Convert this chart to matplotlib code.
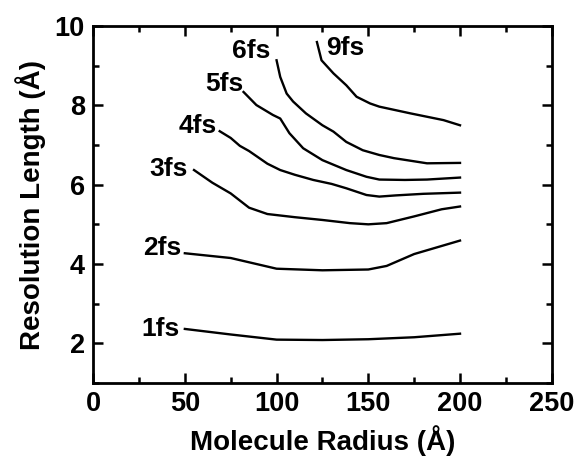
import matplotlib.pyplot as plt
from matplotlib.ticker import MultipleLocator

plt.rcParams['font.family'] = ['Liberation Sans', 'DejaVu Sans']
plt.rcParams['font.weight'] = 'bold'

# molecule radius (x) and resolution length (y) for each pulse duration
x_1fs = [50, 75, 100, 125, 150, 175, 200]
y_1fs = [2.36, 2.22, 2.09, 2.08, 2.10, 2.15, 2.24]

x_2fs = [50, 75, 100, 125, 150, 160, 175, 200]
y_2fs = [4.27, 4.15, 3.88, 3.84, 3.86, 3.95, 4.25, 4.59]

x_3fs = [55, 65, 75, 85, 95, 110, 125, 140, 150, 160, 175, 190, 200]
y_3fs = [6.37, 6.05, 5.78, 5.42, 5.26, 5.18, 5.11, 5.03, 5.00, 5.03, 5.20, 5.38, 5.45]

x_4fs = [69, 75, 80, 85, 95, 102, 110, 120, 130, 138, 149, 156, 165, 180, 200]
y_4fs = [7.35, 7.18, 6.98, 6.85, 6.53, 6.37, 6.25, 6.12, 6.02, 5.91, 5.74, 5.70, 5.73, 5.77, 5.80]

x_5fs = [82, 89, 98, 102, 107, 114.5, 125, 138, 149, 156, 170, 182, 200]
y_5fs = [8.34, 8.01, 7.76, 7.67, 7.30, 6.92, 6.62, 6.37, 6.20, 6.13, 6.12, 6.13, 6.18]

x_6fs = [100, 102, 105.5, 109, 116, 125, 131, 138, 147, 156, 164, 182, 200]
y_6fs = [9.14, 8.72, 8.30, 8.10, 7.80, 7.50, 7.34, 7.08, 6.87, 6.75, 6.67, 6.54, 6.55]

x_9fs = [122, 124.5, 131, 138, 143.6, 151, 156, 173, 191, 200]
y_9fs = [9.60, 9.14, 8.81, 8.51, 8.22, 8.05, 7.97, 7.80, 7.63, 7.50]

labels = ['1fs', '2fs', '3fs', '4fs', '5fs', '6fs', '9fs']
label_x = [47, 48, 51.6, 67.4, 82.2, 96.4, 126.9]
label_y = [2.37, 4.40, 6.39, 7.48, 8.54, 9.38, 9.46]

fig = plt.figure(figsize=(5.82, 4.68), dpi=100)
ax = fig.add_axes([0.160, 0.182, 0.788, 0.762])

for xs, ys in [(x_1fs, y_1fs), (x_2fs, y_2fs), (x_3fs, y_3fs), (x_4fs, y_4fs),
               (x_5fs, y_5fs), (x_6fs, y_6fs), (x_9fs, y_9fs)]:
    ax.plot(xs, ys, color='black', linewidth=1.7, solid_joinstyle='round')

for lab, lx, ly in zip(labels, label_x, label_y):
    ha = 'left' if lab == '9fs' else 'right'
    ax.text(lx, ly, lab, ha=ha, va='center', fontsize=19, fontweight='bold')

ax.set_xlim(0, 250)
ax.set_ylim(1, 10)
ax.xaxis.set_major_locator(MultipleLocator(50))
ax.xaxis.set_minor_locator(MultipleLocator(25))
ax.yaxis.set_major_locator(MultipleLocator(2))
ax.yaxis.set_minor_locator(MultipleLocator(1))

ax.tick_params(which='both', direction='in', top=True, right=True, width=1.8,
               labelsize=19.5)
ax.tick_params(which='major', length=7, pad=6)
ax.tick_params(which='minor', length=4)
for sp in ax.spines.values():
    sp.set_linewidth(2)

ax.set_xlabel('Molecule Radius (Å)', fontsize=20, fontweight='bold', labelpad=6)
ax.set_ylabel('Resolution Length (Å)', fontsize=20, fontweight='bold', labelpad=6)

fig.savefig('out.png', dpi=100)
